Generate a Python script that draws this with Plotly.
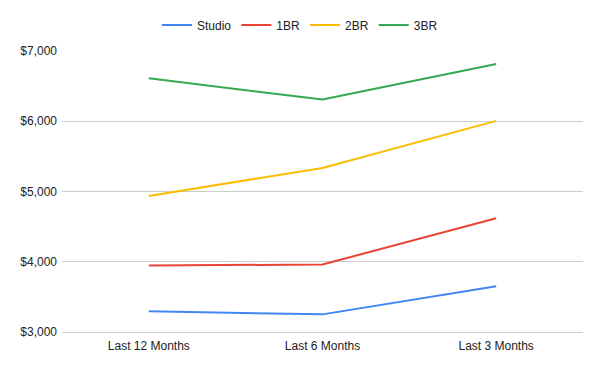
import plotly.graph_objects as go

categories = ["Last 12 Months", "Last 6 Months", "Last 3 Months"]
studio = [3294, 3251, 3651]
br1 = [3947, 3961, 4619]
br2 = [4937, 5336, 6005]
br3 = [6611, 6309, 6816]

series = [
    ("Studio", studio, "#4285F4"),
    ("1BR", br1, "#EA4335"),
    ("2BR", br2, "#FBBC04"),
    ("3BR", br3, "#34A853"),
]

fig = go.Figure()
for name, vals, color in series:
    fig.add_trace(go.Scatter(x=categories, y=vals, name=name, mode="lines",
                             line=dict(color=color, width=2)))

fig.update_layout(
    width=600, height=371,
    margin=dict(l=62, r=17, t=51, b=39, autoexpand=False),
    paper_bgcolor="white", plot_bgcolor="white",
    font=dict(family="Arial, Liberation Sans, sans-serif", size=12, color="#222222"),
    legend=dict(orientation="h", x=0.5, xanchor="center", xref="container",
                y=0.972, yanchor="top", yref="container",
                font=dict(size=12, color="#222222"), itemwidth=30),
    showlegend=True,
    xaxis=dict(type="category", range=[-0.5, 2.5], showgrid=False, showline=True,
               linecolor="#cccccc", linewidth=1, ticklabelstandoff=3,
               ticks="", zeroline=False, tickfont=dict(size=12)),
    yaxis=dict(range=[3000, 7000], dtick=1000, tickformat="$,.0f", showgrid=True,
               gridcolor="#cccccc", gridwidth=1, zeroline=False, showline=False,
               ticks="", ticklabelstandoff=4, tickfont=dict(size=12)),
)

fig.write_html("out.html")
